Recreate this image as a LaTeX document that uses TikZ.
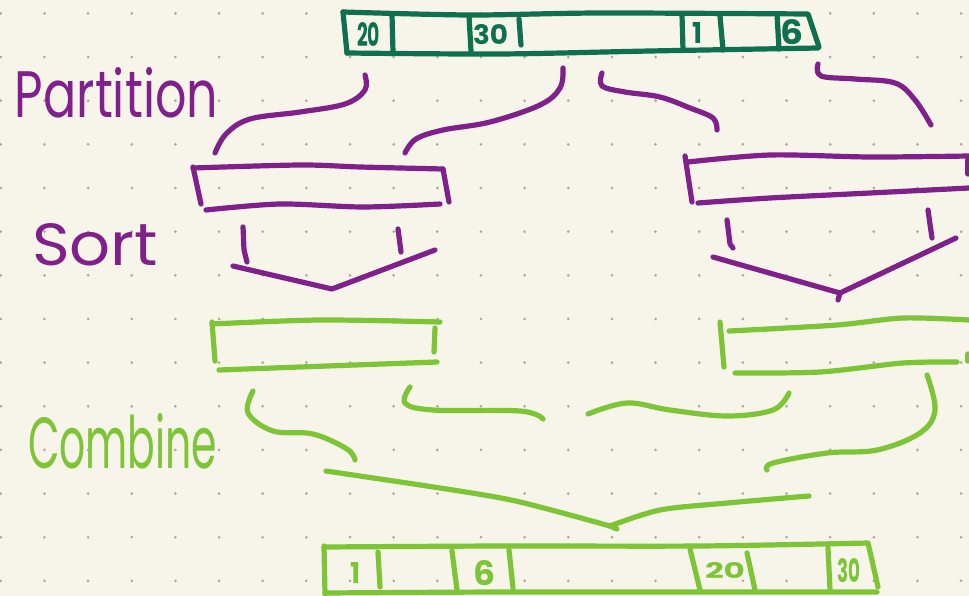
\documentclass[tikz,border=0pt]{standalone}
\usepackage{fontspec}
\setmainfont{Poppins}
\usepackage{graphicx}
\usepackage{tikz}
\usetikzlibrary{arrows}

\definecolor{paper}{HTML}{F7F5EA}
\definecolor{dotgray}{HTML}{ABAAA2}
\definecolor{inkgreen}{HTML}{0F7050}
\definecolor{inkpurple}{HTML}{80208A}
\definecolor{inklime}{HTML}{7DC436}

\begin{document}
\begin{tikzpicture}[x=1pt,y=-1pt,line cap=round,line join=round,
    pen/.style={line width=5.2pt},
    word/.style={anchor=base west,inner sep=0pt,outer sep=0pt}]
\useasboundingbox (0,0) rectangle (969,596);
\fill[paper] (0,0) rectangle (969,596);
\foreach \i in {0,...,22}
  \foreach \j in {0,...,13}
    \fill[dotgray] (0.8+43.65*\i,13.4+43.65*\j) circle (1.5pt);

% input array
\draw[pen,inkgreen] plot[smooth] coordinates {(343,12) (470,15) (600,13) (808,14)} -- (819,47);
\draw[pen,inkgreen] (343,12) -- (347,53);
\draw[pen,inkgreen] plot[smooth] coordinates {(347,53) (500,54) (650,51) (818,48)};
\draw[pen,inkgreen] (392,15) -- (393,52);
\draw[pen,inkgreen] (469,16) -- (471,51);
\draw[pen,inkgreen] (519,19) -- (521,45);
\draw[pen,inkgreen] (682,15) -- (683,50);
\draw[pen,inkgreen] (720,16) -- (723,50);
\draw[pen,inkgreen] (777,14) -- (779,49);
\node[word,inkgreen] (in20) at (357,47) {\resizebox{23pt}{24pt}{\bfseries 20}};
\node[word,inkgreen] (in30) at (473,45) {\resizebox{35pt}{20pt}{\bfseries 30}};
\node[word,inkgreen] (in1) at (692,44) {\resizebox{10pt}{21pt}{\bfseries 1}};
\node[word,inkgreen] (in6) at (780,45) {\resizebox{23pt}{25pt}{\bfseries 6}};

\node[word,inkpurple] (partition) at (15,118) {\resizebox{203pt}{50pt}{Partition}};
\node[word,inkpurple] (sort) at (32,265) {\resizebox{126pt}{42pt}{Sort}};
\node[word,inklime] (combine) at (28,468) {\resizebox{189pt}{55pt}{Combine}};

% partition
\draw[pen,inkpurple] plot[smooth,tension=0.6] coordinates {(365,75) (365,90) (345,104) (300,112) (250,119) (226,134) (215,153)};
\draw[pen,inkpurple] plot[smooth,tension=0.6] coordinates {(563,68) (560,88) (540,105) (490,122) (443,130) (416,139) (405,153)};
\draw[pen,inkpurple] plot[smooth,tension=0.6] coordinates {(602,73) (602,86) (625,92) (660,97) (690,108) (713,118) (717,130)};
\draw[pen,inkpurple] plot[smooth,tension=0.6] coordinates {(818,64) (821,76) (855,79) (895,83) (915,100) (931,125)};

\draw[pen,inkpurple] plot[smooth] coordinates {(193,168) (300,165) (360,167) (443,169)};
\draw[pen,inkpurple] (193,167) -- (201,204);
\draw[pen,inkpurple] (443,169) -- (449,202);
\draw[pen,inkpurple] plot[smooth] coordinates {(206,210) (280,204) (363,207) (440,204)};

\draw[pen,inkpurple] (685,156) -- (692,202);
\draw[pen,inkpurple] plot[smooth] coordinates {(688,162) (770,155) (870,157) (969,156)};
\draw[pen,inkpurple] plot[smooth] coordinates {(698,203) (770,198) (870,193) (969,188)};
\draw[pen,inkpurple] (968,160) -- (968,174);

% sort
\draw[pen,inkpurple] (243,227) -- (244,250) -- (247,262);
\draw[pen,inkpurple] (398,229) -- (401,252);
\draw[pen,inkpurple] (233,266) -- (332,289) -- (435,250);
\draw[pen,inkpurple] (727,220) -- (730,244) -- (733,248);
\draw[pen,inkpurple] (928,210) -- (932,238);
\draw[pen,inkpurple] (713,257) -- (840,293) -- (956,238);
\draw[pen,inkpurple] (840,293) -- (838,300);

\draw[pen,inklime] plot[smooth] coordinates {(212,324) (320,320) (440,322)};
\draw[pen,inklime] (212,322) -- (215,361);
\draw[pen,inklime] (435,328) -- (434,352);
\draw[pen,inklime] plot[smooth] coordinates {(219,370) (300,367) (437,362)};

\draw[pen,inklime] (720,322) -- (724,367);
\draw[pen,inklime] plot[smooth] coordinates {(729,331) (837,325) (903,318) (969,320)};
\draw[pen,inklime] plot[smooth] coordinates {(735,373) (820,372) (903,363) (957,362)};
\draw[pen,inklime] (968,354) -- (968,361);

% combine
\draw[pen,inklime] plot[smooth,tension=0.6] coordinates {(253,391) (248,413) (273,431) (313,434) (347,449) (355,460)};
\draw[pen,inklime] plot[smooth,tension=0.6] coordinates {(410,387) (405,403) (433,410) (520,411) (543,419)};
\draw[pen,inklime] plot[smooth,tension=0.6] coordinates {(789,393) (773,410) (727,416) (670,410) (627,403) (588,414)};
\draw[pen,inklime] plot[smooth,tension=0.6] coordinates {(927,375) (935,410) (920,433) (877,450) (827,453) (773,463) (767,470)};
\draw[pen,inklime] plot[smooth,tension=0.5] coordinates {(326,471) (453,490) (520,502) (610,526)};
\draw[pen,inklime] plot[smooth,tension=0.5] coordinates {(610,526) (660,510) (727,503) (809,496)};
\draw[pen,inklime] (610,526) -- (617,529);

% output array
\draw[pen,inklime] (324,546) -- (325,594);
\draw[pen,inklime] plot[smooth] coordinates {(324,547) (500,546) (700,546) (868,543)} -- (878,587);
\draw[pen,inklime] plot[smooth] coordinates {(325,593) (500,592) (700,592) (877,592)};
\draw[pen,inklime] (378,552) -- (380,587);
\draw[pen,inklime] (452,551) -- (457,590);
\draw[pen,inklime] (509,550) -- (513,588);
\draw[pen,inklime] (690,549) -- (700,590);
\draw[pen,inklime] (747,553) -- (755,590);
\draw[pen,inklime] (828,548) -- (830,590);
\node[word,inklime] (out1) at (350,583) {\resizebox{10pt}{21pt}{\bfseries 1}};
\node[word,inklime] (out6) at (473,585) {\resizebox{22pt}{25pt}{\bfseries 6}};
\node[word,inklime] (out20) at (705,578) {\resizebox{40pt}{16pt}{\bfseries 20}};
\node[word,inklime] (out30) at (837,582) {\resizebox{23pt}{24pt}{\bfseries 30}};
\end{tikzpicture}
\end{document}
